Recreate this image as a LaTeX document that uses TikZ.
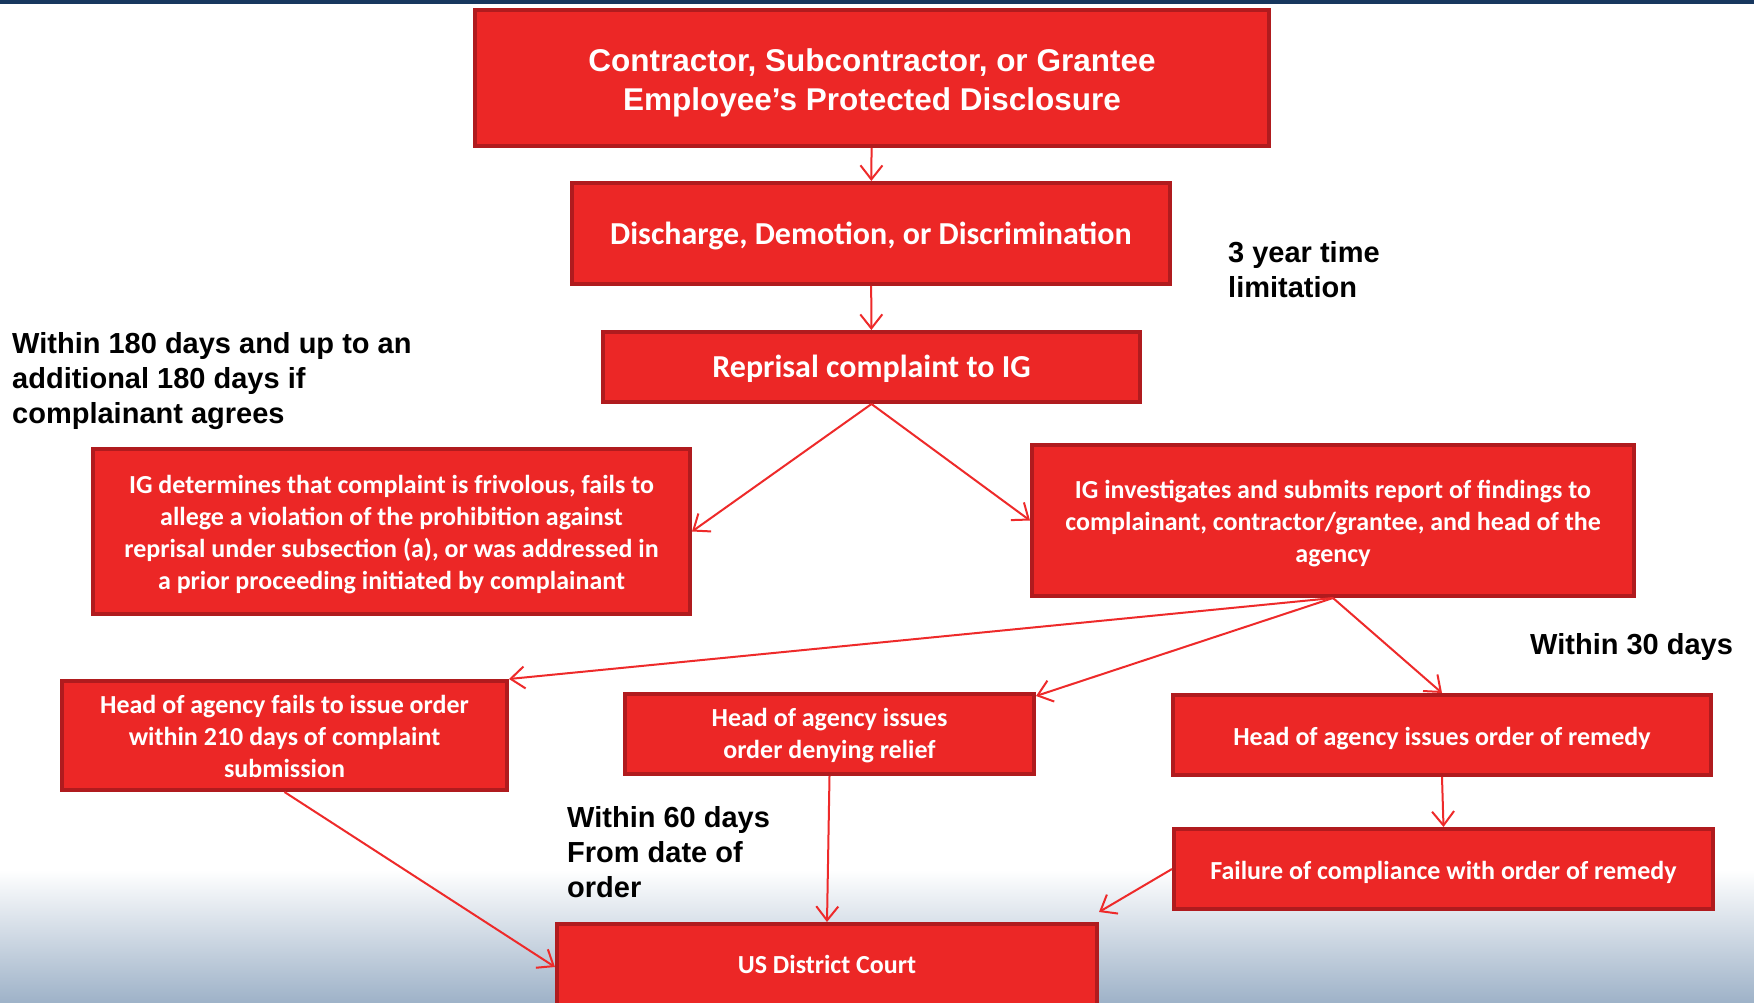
\documentclass[tikz,border=0pt]{standalone}
\usepackage{fontspec}
\setmainfont{Liberation Sans}
\newfontfamily\calfont{Carlito}
\usetikzlibrary{arrows.meta}
\definecolor{boxred}{HTML}{EC2726}
\definecolor{boxedge}{HTML}{B01B1E}
\definecolor{linkred}{HTML}{EE2A2A}
\definecolor{navybar}{HTML}{17375E}
\definecolor{floorblue}{HTML}{9EB2C8}
\newcommand{\boxtop}[1]{\rule{0pt}{#1pt}}

\begin{document}
\begin{tikzpicture}[x=1pt, y=-1pt,
  stepbox/.style={draw=boxedge, fill=boxred, line width=4pt, text=white, align=center, inner sep=0pt,
    font=\calfont\bfseries\fontsize{26}{32}\selectfont, execute at begin node={\rule{0pt}{25pt}}},
  widebox/.style={stepbox, font=\calfont\bfseries\fontsize{32}{38}\selectfont, execute at begin node={\rule{0pt}{27pt}}},
  titlebox/.style={stepbox, font=\bfseries\fontsize{31.5}{39}\selectfont},
  link/.style={draw=linkred, line width=2pt, -{Straight Barb[length=14pt,width=22pt,line width=2pt]}},
  timenote/.style={anchor=north west, align=left, inner sep=0pt, font=\bfseries\fontsize{29}{35}\selectfont}]

  \useasboundingbox (0,0) rectangle (1754,1003);
  \fill[white] (0,0) rectangle (1754,1003);
  \shade[top color=white, bottom color=floorblue] (0,870) rectangle (1754,1003);
  \fill[navybar] (0,0) rectangle (1754,4);

  \node[titlebox, minimum width=794, minimum height=136] (disclosure) at (872,78)
    {\boxtop{32}Contractor, Subcontractor, or Grantee\\Employee’s Protected Disclosure};
  \node[widebox, minimum width=598, minimum height=101] (discharge) at (871,233.5)
    {Discharge, Demotion, or Discrimination};
  \node[widebox, minimum width=537, minimum height=70] (reprisal) at (871.5,367)
    {Reprisal complaint to IG};
  \node[stepbox, minimum width=597, minimum height=165] (frivol) at (391.5,531.5)
    {\boxtop{25}IG determines that complaint is frivolous, fails to\\allege a violation of the prohibition against\\reprisal under subsection (a), or was addressed in\\a prior proceeding initiated by complainant};
  \node[stepbox, minimum width=602, minimum height=151] (investig) at (1333,520.5)
    {\boxtop{25}IG investigates and submits report of findings to\\complainant, contractor/grantee, and head of the\\agency};
  \node[stepbox, minimum width=445, minimum height=109] (nodecide) at (284.5,735.5)
    {\boxtop{21}Head of agency fails to issue order\\within 210 days of complaint\\submission};
  \node[stepbox, minimum width=409, minimum height=80] (denial) at (829.5,734)
    {\boxtop{22}Head of agency issues\\order denying relief};
  \node[stepbox, minimum width=538, minimum height=80] (remedy) at (1442,735)
    {Head of agency issues order of remedy};
  \node[stepbox, minimum width=539, minimum height=80] (noncomply) at (1443.5,869)
    {Failure of compliance with order of remedy};
  \node[stepbox, minimum width=540, minimum height=86, execute at begin node={\rule[-12pt]{0pt}{0pt}}] (court) at (827,967)
    {US District Court};

  \node[timenote] (limit) at (1228,241) {3 year time\\limitation};
  \node[timenote] (igdays) at (12,332) {Within 180 days and up to an\\additional 180 days if\\complainant agrees};
  \node[timenote] (thirty) at (1530,633) {Within 30 days};
  \node[timenote] (sixty) at (567,806) {Within 60 days\\From date of\\order};

  \draw[link] (disclosure) -- (discharge);
  \draw[link] (discharge) -- (reprisal);
  \draw[link] (reprisal.south) -- (frivol.east);
  \draw[link] (reprisal.south) -- (investig.west);
  \draw[link] (investig.south) -- (nodecide.north east);
  \draw[link] (investig.south) -- ([yshift=-4pt]denial.north east);
  \draw[link] (investig.south) -- (remedy.north);
  \draw[link] (nodecide.south) -- (court.west);
  \draw[link] (denial.south) -- (court.north);
  \draw[link] (remedy.south) -- (noncomply.north);
  \draw[link] (noncomply.west) -- ([yshift=10pt]court.north east);
\end{tikzpicture}
\end{document}
